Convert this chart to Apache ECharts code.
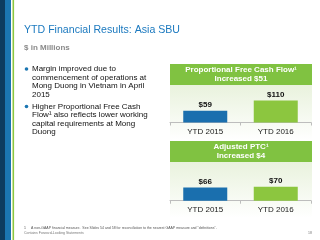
<!DOCTYPE html>
<html lang="en">
<head>
<meta charset="UTF-8">
<title>YTD Financial Results: Asia SBU</title>
<script src="https://cdn.jsdelivr.net/npm/echarts@6/dist/echarts.min.js"></script>
<style>
  html, body { margin: 0; padding: 0; background: #fff; }
  #main { width: 320px; height: 240px; }
</style>
</head>
<body>
<div id="main"></div>
<script>
// chart data
var categories = ['YTD 2015', 'YTD 2016'];
var fcfValues = [59, 110];
var ptcValues = [66, 70];
var barColors = ['#1a6fae', '#8cc63f'];

var bullets = [
  ['Margin improved due to', 'commencement of operations at', 'Mong Duong in Vietnam in April', '2015'],
  ['Higher Proportional Free Cash', 'Flow\u00b9 also reflects lower working', 'capital requirements at Mong', 'Duong']
];

var FONT = '"Liberation Sans", Arial, sans-serif';
var myChart = echarts.init(document.getElementById('main'));

function txt(x, y, s, size, color, weight, align) {
  return {
    type: 'text', silent: true,
    style: {
      x: x, y: y, text: s, fill: color,
      font: (weight || 'normal') + ' ' + size + 'px ' + FONT,
      align: align || 'left', verticalAlign: 'middle'
    }
  };
}

var panelFill = new echarts.graphic.LinearGradient(0, 0, 0, 1, [
  { offset: 0, color: '#e9f2dd' },
  { offset: 1, color: '#ffffff' }
]);

var graphics = [
  // left stripes
  { type: 'rect', shape: { x: 0, y: 0, width: 5, height: 240 }, style: { fill: '#0d3c60' } },
  { type: 'rect', shape: { x: 5, y: 0, width: 6, height: 240 }, style: { fill: '#1b76b2' } },
  { type: 'rect', shape: { x: 12.5, y: 0, width: 1.6, height: 240 }, style: { fill: '#8cc63f' } },
  // panels
  { type: 'rect', z: -1, shape: { x: 170, y: 85, width: 142, height: 56 }, style: { fill: panelFill } },
  { type: 'rect', z: -1, shape: { x: 170, y: 162, width: 142, height: 56 }, style: { fill: panelFill } },
  { type: 'rect', shape: { x: 170, y: 64, width: 142, height: 21 }, style: { fill: '#80c241' } },
  { type: 'rect', shape: { x: 170, y: 141, width: 142, height: 21 }, style: { fill: '#80c241' } },
  txt(241, 70, 'Proportional Free Cash Flow\u00b9', 8, '#fff', 'bold', 'center'),
  txt(241, 79, 'Increased $51', 8, '#fff', 'bold', 'center'),
  txt(241, 147, 'Adjusted PTC\u00b9', 8, '#fff', 'bold', 'center'),
  txt(241, 156, 'Increased $4', 8, '#fff', 'bold', 'center'),
  // titles
  txt(24, 30, 'YTD Financial Results: Asia SBU', 10.6, '#1b79bf'),
  txt(24, 47.5, '$ in Millions', 8, '#8a8a8a', 'bold'),
  // footer
  txt(24, 228, '1', 3.5, '#555'),
  txt(31, 228, 'A non-GAAP financial measure.  See Slides 54 and 58 for reconciliation to the nearest GAAP measure and \u201cdefinitions\u201d.', 3.5, '#555'),
  txt(24, 233, 'Contains Forward-Looking Statements', 3.5, '#777'),
  txt(312, 233, '18', 3.5, '#777', 'normal', 'right')
];

var lineY = [[69, 77.5, 86, 94.5], [106.5, 115, 123.5, 132]];
bullets.forEach(function (lines, b) {
  graphics.push({ type: 'circle', shape: { cx: 26.5, cy: lineY[b][0], r: 1.8 }, style: { fill: '#1b76b2' } });
  lines.forEach(function (s, i) {
    graphics.push(txt(32, lineY[b][i], s, 8, '#111'));
  });
});

function barData(vals) {
  return vals.map(function (v, i) {
    return { value: v, itemStyle: { color: barColors[i] } };
  });
}

var axisCommon = {
  type: 'category',
  data: categories,
  axisLine: { lineStyle: { color: '#bdbdbd', width: 1 } },
  axisTick: { show: true, length: 3, lineStyle: { color: '#bdbdbd' } },
  axisLabel: { color: '#1a1a1a', fontSize: 8, fontFamily: FONT, margin: 5 }
};

var option = {
  animation: false,
  grid: [
    { left: 170, width: 141, top: 92.5, height: 30 },
    { left: 170, width: 141, top: 170.7, height: 30 }
  ],
  xAxis: [
    Object.assign({ gridIndex: 0 }, axisCommon),
    Object.assign({ gridIndex: 1 }, axisCommon)
  ],
  yAxis: [
    { gridIndex: 0, type: 'value', min: 0, max: 150, show: false, splitLine: { show: false } },
    { gridIndex: 1, type: 'value', min: 0, max: 150, show: false, splitLine: { show: false } }
  ],
  series: [
    {
      type: 'bar', xAxisIndex: 0, yAxisIndex: 0, barWidth: 44,
      data: barData(fcfValues),
      label: { show: true, position: 'top', distance: 2, formatter: '${c}',
               color: '#111', fontWeight: 'bold', fontSize: 8, fontFamily: FONT }
    },
    {
      type: 'bar', xAxisIndex: 1, yAxisIndex: 1, barWidth: 44,
      data: barData(ptcValues),
      label: { show: true, position: 'top', distance: 2, formatter: '${c}',
               color: '#111', fontWeight: 'bold', fontSize: 8, fontFamily: FONT }
    }
  ],
  graphic: graphics
};

myChart.setOption(option);
</script>
</body>
</html>
